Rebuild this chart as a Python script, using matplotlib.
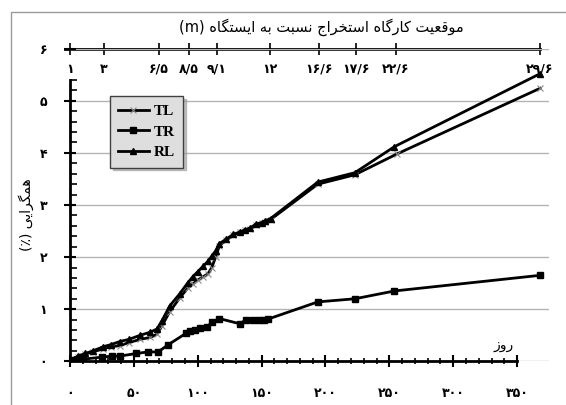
import matplotlib
matplotlib.use('Agg')
import matplotlib.pyplot as plt
from matplotlib.ticker import FixedLocator, NullLocator
from matplotlib.patches import Rectangle

# ---------------- data ----------------
tl_days = [0, 3, 6, 12, 18, 26, 32, 39, 46, 55, 63, 68, 72, 78, 86, 92, 96, 100,
           104, 108, 111, 114, 117, 122, 128, 133, 137, 141, 146, 150, 153, 157,
           194, 223, 256, 368]
tl_vals = [0, 0.03, 0.08, 0.14, 0.18, 0.24, 0.28, 0.30, 0.36, 0.42, 0.46, 0.52,
           0.68, 0.95, 1.22, 1.40, 1.48, 1.56, 1.62, 1.68, 1.80, 2.00, 2.22, 2.32,
           2.42, 2.48, 2.52, 2.54, 2.62, 2.66, 2.68, 2.72, 3.40, 3.58, 3.98, 5.24]

tr_days = [0, 3, 10, 25, 33, 39, 52, 61, 69, 77, 91, 94, 98, 102, 107, 111, 117,
           133, 138, 143, 148, 152, 155, 194, 223, 254, 368]
tr_vals = [0, 0.02, 0.04, 0.08, 0.10, 0.10, 0.15, 0.18, 0.18, 0.32, 0.54, 0.59,
           0.61, 0.63, 0.65, 0.75, 0.82, 0.72, 0.80, 0.80, 0.80, 0.80, 0.81,
           1.14, 1.20, 1.35, 1.65]

rl_days = [0, 3, 6, 12, 18, 26, 32, 39, 46, 55, 63, 68, 72, 78, 86, 92, 96, 100,
           104, 108, 111, 114, 117, 122, 128, 133, 137, 141, 146, 150, 153, 157,
           194, 223, 254, 368]
rl_vals = [0, 0.04, 0.10, 0.15, 0.20, 0.28, 0.32, 0.38, 0.42, 0.50, 0.56, 0.62,
           0.78, 1.06, 1.30, 1.50, 1.62, 1.72, 1.82, 1.92, 2.02, 2.12, 2.26, 2.34,
           2.44, 2.48, 2.52, 2.56, 2.64, 2.66, 2.70, 2.74, 3.44, 3.62, 4.12, 5.52]

series_names = ['TL', 'TR', 'RL']

bottom_ticks = [0, 50, 100, 150, 200, 250, 300, 350]
y_ticks = [0, 1, 2, 3, 4, 5, 6]
top_tick_days = [0, 26.6, 69.7, 93.2, 115, 156.6, 195, 224, 255, 368]
top_tick_labels = ['1', '3', '6/5', '8/5', '9/1', '12', '16/6', '17/6', '22/6', '29/6']

title_text = 'موقعیت کارگاه استخراج نسبت به ایستگاه'
ylabel_text = 'همگرایی'
xlabel_text = 'روز'

# ---------------- Persian helpers ----------------
FA_DIGITS = str.maketrans('0123456789', '۰۱۲۳۴۵۶۷۸۹')


def fa(s):
    return str(s).translate(FA_DIGITS)


FORMS = {
    'ا': ('\uFE8D', '\uFE8E', None, None),
    'ب': ('\uFE8F', '\uFE90', '\uFE91', '\uFE92'),
    'ت': ('\uFE95', '\uFE96', '\uFE97', '\uFE98'),
    'ج': ('\uFE9D', '\uFE9E', '\uFE9F', '\uFEA0'),
    'خ': ('\uFEA5', '\uFEA6', '\uFEA7', '\uFEA8'),
    'ر': ('\uFEAD', '\uFEAE', None, None),
    'ز': ('\uFEAF', '\uFEB0', None, None),
    'س': ('\uFEB1', '\uFEB2', '\uFEB3', '\uFEB4'),
    'ع': ('\uFEC9', '\uFECA', '\uFECB', '\uFECC'),
    'ق': ('\uFED5', '\uFED6', '\uFED7', '\uFED8'),
    'م': ('\uFEE1', '\uFEE2', '\uFEE3', '\uFEE4'),
    'ن': ('\uFEE5', '\uFEE6', '\uFEE7', '\uFEE8'),
    'ه': ('\uFEE9', '\uFEEA', '\uFEEB', '\uFEEC'),
    'و': ('\uFEED', '\uFEEE', None, None),
    'ک': ('\uFB8E', '\uFB8F', '\uFB90', '\uFB91'),
    'گ': ('\uFB92', '\uFB93', '\uFB94', '\uFB95'),
    'ی': ('\uFBFC', '\uFBFD', '\uFBFE', '\uFBFF'),
}


def shape(text):
    out = []
    for i, ch in enumerate(text):
        f = FORMS.get(ch)
        if f is None:
            out.append(ch)
            continue
        prev = text[i - 1] if i > 0 else ''
        nxt = text[i + 1] if i + 1 < len(text) else ''
        jp = prev in FORMS and FORMS[prev][2] is not None
        jn = nxt in FORMS and f[2] is not None
        if jp and jn:
            out.append(f[3])
        elif jp:
            out.append(f[1])
        elif jn:
            out.append(f[2])
        else:
            out.append(f[0])
    return ''.join(reversed(out))


# ---------------- figure ----------------
plt.rcParams['font.family'] = ['DejaVu Sans']
plt.rcParams['xtick.top'] = False
plt.rcParams['xtick.minor.top'] = False
fig = plt.figure(figsize=(5.66, 4.05), dpi=100)
rect = [70 / 566, 1 - 361.3 / 405, 479 / 566, 312.6 / 405]

# top distance axis (drawn in its own axes, behind the main one)
ax2 = fig.add_axes(rect)
ax2.set_xlim(0, 375)
ax2.set_ylim(0, 6)
ax2.patch.set_visible(False)
for s in ['bottom', 'left', 'right']:
    ax2.spines[s].set_visible(False)
ax2.spines['top'].set_linewidth(2)
ax2.spines['top'].set_bounds(-4, 368)
ax2.yaxis.set_visible(False)
ax2.xaxis.tick_top()
ax2.set_xticks(top_tick_days)
ax2.set_xticklabels([fa(t) for t in top_tick_labels], fontsize=9, fontweight='bold')
ax2.xaxis.set_minor_locator(NullLocator())
ax2.tick_params(axis='x', which='major', direction='inout', length=9, width=1.2, pad=-24)

ax = fig.add_axes(rect)
ax.patch.set_visible(False)

# outer frame of the chart
fig.patches.append(Rectangle((11 / 566, -0.1), 1.2, (405 - 12) / 405 + 0.1,
                             transform=fig.transFigure, fill=False,
                             edgecolor='#9a9a9a', linewidth=1.0))

lw = 2.0
ax.plot(tl_days, tl_vals, color='black', lw=lw, marker='x', ms=5,
        mec='#8a8a8a', mew=0.8, label=series_names[0], zorder=4)
ax.plot(tr_days, tr_vals, color='black', lw=lw, marker='s', ms=5,
        mfc='black', mec='black', label=series_names[1], zorder=4)
ax.plot(rl_days, rl_vals, color='black', lw=lw, marker='^', ms=4,
        mfc='black', mec='black', label=series_names[2], zorder=5)

ax.set_xlim(0, 375)
ax.set_ylim(0, 6)

for s in ['top', 'right']:
    ax.spines[s].set_visible(False)
ax.spines['left'].set_linewidth(2)
ax.spines['bottom'].set_linewidth(2)
ax.spines['bottom'].set_bounds(0, 350)
ax.spines['left'].set_bounds(0, 5.4)

ax.set_xticks(bottom_ticks)
ax.set_xticklabels([fa(t) for t in bottom_ticks], fontsize=9, fontweight='bold')
ax.xaxis.set_minor_locator(FixedLocator([d for d in range(0, 351, 10) if d % 50]))
ax.set_yticks(y_ticks)
ax.set_yticklabels([fa(t) for t in y_ticks], fontsize=9, fontweight='bold')
ax.yaxis.set_minor_locator(FixedLocator([round(0.2 * i, 1) for i in range(28) if i % 5]))
ax.tick_params(axis='x', which='both', top=False, labeltop=False)
ax.tick_params(axis='x', which='major', direction='inout', length=9, width=1.5, pad=14)
ax.tick_params(axis='x', which='minor', direction='inout', length=5, width=1.2)
ax.tick_params(axis='y', which='both', right=False)
ax.tick_params(axis='y', which='major', direction='inout', length=9, width=1.5, pad=12)
ax.tick_params(axis='y', which='minor', direction='in', length=5, width=1.2)

ax.yaxis.grid(True, color='#b4b4b4', lw=1)
ax.set_axisbelow(True)

ax.set_ylabel('(٪) ' + shape(ylabel_text), fontsize=10)
ax.yaxis.set_label_coords(-0.075, 0.47)
ax.set_xlabel(shape(xlabel_text), fontsize=10, va='top')
ax.xaxis.set_label_coords(0.905, 0.075)

fig.text(321 / 566, 1 - 27 / 405, '(m) ' + shape(title_text), ha='center',
         va='center', fontsize=10.5)

leg = ax.legend(loc='upper left', bbox_to_anchor=(0.083, 0.849), borderaxespad=0,
                prop={'family': 'Liberation Serif', 'weight': 'bold', 'size': 11},
                frameon=True, fancybox=False, shadow={'color': '#9a9a9a', 'alpha': 0.6},
                handlelength=2.0, labelspacing=0.45, borderpad=0.55, handletextpad=0.3)
leg.get_frame().set_facecolor('#dedede')
leg.get_frame().set_edgecolor('#404040')
leg.get_frame().set_linewidth(1.0)

fig.savefig('out.png', dpi=100)
